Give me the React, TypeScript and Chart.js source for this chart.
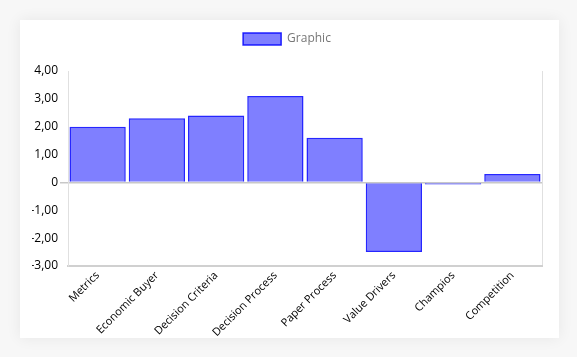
import React, { useEffect, useRef } from "react";
import { Chart, registerables } from "chart.js";

Chart.register(...registerables);

const categories = [
  "Metrics",
  "Economic Buyer",
  "Decision Criteria",
  "Decision Process",
  "Paper Process",
  "Value Drivers",
  "Champios",
  "Competition",
];
const seriesLabel = "Graphic";
const values = [2.0, 2.3, 2.4, 3.1, 1.6, -2.5, -0.07, 0.3];
const yMin = -3;
const yMax = 4;

const FONT = "'Open Sans', 'Noto Sans', sans-serif";

const legendSpacer = {
  id: "legendSpacer",
  beforeInit(chart: any) {
    const legend = chart.legend;
    if (!legend) return;
    const orig = legend.fit;
    legend.fit = function () {
      orig.bind(legend)();
      this.height += 16;
    };
  },
};

export default function App() {
  const ref = useRef<HTMLCanvasElement | null>(null);

  useEffect(() => {
    const canvas = ref.current;
    if (!canvas) return;
    const chart = new Chart(canvas, {
      type: "bar",
      data: {
        labels: categories,
        datasets: [
          {
            label: seriesLabel,
            data: values,
            backgroundColor: "rgba(0,0,255,0.5)",
            borderColor: "rgba(0,0,255,0.85)",
            borderWidth: 1.5,
            categoryPercentage: 1,
            barPercentage: 0.95,
          },
        ],
      },
      plugins: [legendSpacer],
      options: {
        animation: false,
        responsive: false,
        maintainAspectRatio: false,
        layout: { padding: { left: 12, right: 17, top: 3, bottom: 0 } },
        plugins: {
          legend: {
            position: "top",
            labels: {
              color: "#777",
              font: { family: FONT, size: 12 },
              boxWidth: 38,
              boxHeight: 12,
            },
          },
          tooltip: { enabled: false },
        },
        scales: {
          x: {
            afterFit: (s: any) => {
              s.height = 72;
            },
            grid: {
              color: (ctx: any) => (ctx.type === "scale" ? "#e0e0e0" : "rgba(0,0,0,0)"),
              drawTicks: false,
            },
            border: { display: true, color: "#d0d0d0", width: 2 },
            ticks: {
              color: "#000",
              font: { family: FONT, size: 11 },
              maxRotation: 45,
              minRotation: 45,
              padding: 3,
              autoSkip: false,
            },
          },
          y: {
            min: yMin,
            max: yMax,
            afterFit: (s: any) => {
              s.width = 36;
            },
            grid: {
              color: (ctx: any) => (ctx.tick && ctx.tick.value === 0 ? "#c8c8c8" : "rgba(0,0,0,0)"),
              lineWidth: 1.5,
              drawTicks: true,
              tickLength: 8,
            },
            border: { display: true, color: "#e0e0e0", width: 1 },
            ticks: {
              stepSize: 1,
              color: "#000",
              font: { family: FONT, size: 12 },
              padding: 2,
              callback: (v: any) =>
                Number(v) === 0 ? "0" : Number(v).toFixed(2).replace(".", ","),
            },
          },
        },
      },
    });
    return () => chart.destroy();
  }, []);

  return (
    <div
      style={{
        position: "fixed",
        left: 0,
        top: 0,
        width: 577,
        height: 357,
        background: "#f7f7f7",
      }}
    >
      <div
        style={{
          position: "absolute",
          left: 20,
          top: 20,
          width: 539,
          height: 318,
          background: "#fff",
          boxShadow: "0 0 14px rgba(0,0,0,0.07)",
        }}
      >
        <canvas ref={ref} width={539} height={318} style={{ display: "block", width: 539, height: 318 }} />
      </div>
    </div>
  );
}
